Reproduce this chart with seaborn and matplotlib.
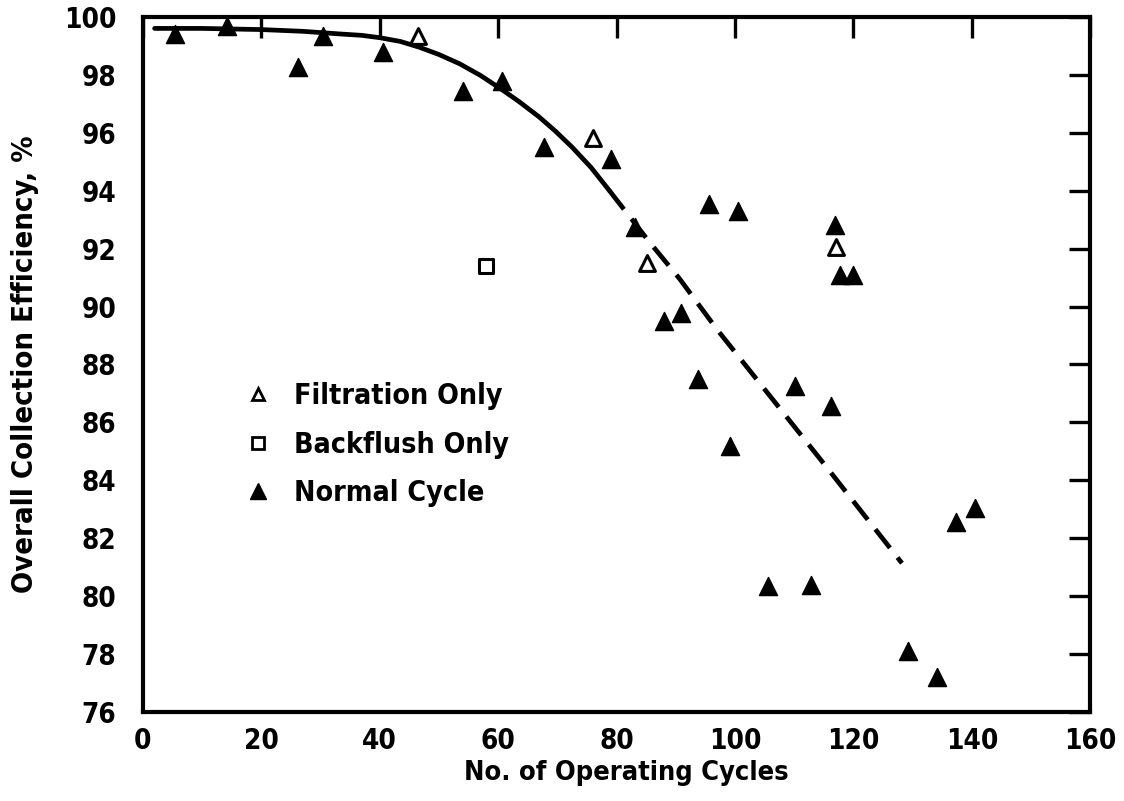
import matplotlib
matplotlib.use("Agg")
import matplotlib.pyplot as plt
from matplotlib.lines import Line2D
import seaborn as sns

# Normal cycle (filled triangles)
normal_x = [5.4, 14.3, 26.3, 30.5, 40.5, 54.0, 60.7, 67.8, 79.1, 83.1, 88.0, 90.9,
            93.8, 95.7, 99.2, 100.5, 105.6, 110.1, 112.8, 116.2, 116.9, 117.7, 120.0,
            129.3, 134.2, 137.4, 140.5]
normal_y = [99.4, 99.7, 98.27, 99.35, 98.8, 97.45, 97.8, 95.5, 95.1, 92.75, 89.5, 89.76,
            87.5, 93.55, 85.2, 93.3, 80.34, 87.27, 80.38, 86.55, 92.8, 91.1, 91.1,
            78.1, 77.2, 82.55, 83.03]

# Filtration only (open triangles)
filt_x = [46.5, 76.0, 85.2, 117.0]
filt_y = [99.35, 95.8, 91.5, 92.07]

# Backflush only (open square)
back_x = [58.0]
back_y = [91.4]

# Trend curve: solid part and dashed extrapolation
solid_x = [2, 10, 20, 27, 33.2, 37.0, 40.0, 43.5, 46.7, 50.0, 53.5, 57.0, 60.2,
           63.5, 66.9, 69.7, 72.5, 75.7, 78.8]
solid_y = [99.6, 99.6, 99.56, 99.5, 99.41, 99.36, 99.28, 99.15, 98.95, 98.70, 98.38,
           97.98, 97.55, 97.08, 96.55, 96.05, 95.5, 94.8, 94.0]
dash_x = [78.8, 85.5, 90.6, 97.0, 115.3, 128.2]
dash_y = [94.0, 92.24, 90.97, 89.2, 84.5, 81.14]

x_ticks = list(range(0, 161, 20))
y_ticks = list(range(76, 101, 2))

sns.set_theme(style="white")
plt.rcParams['font.family'] = ['DejaVu Sans']
plt.rcParams['font.stretch'] = 'condensed'
plt.rcParams['font.weight'] = 'bold'
plt.rcParams['text.color'] = 'black'
plt.rcParams['axes.labelcolor'] = 'black'

fig = plt.figure(figsize=(11.24, 8.01), dpi=100)
ax = fig.add_axes([0.127, 0.111, 0.843, 0.868])

sns.lineplot(x=solid_x, y=solid_y, ax=ax, color='black', lw=3.4, sort=False)
sns.lineplot(x=dash_x, y=dash_y, ax=ax, color='black', lw=3.4, sort=False,
             linestyle=(0, (5, 2.6)))

sns.scatterplot(x=normal_x, y=normal_y, ax=ax, marker='^', s=170, color='black',
                edgecolor='black', linewidth=1, zorder=5)
sns.scatterplot(x=filt_x, y=filt_y, ax=ax, marker='^', s=130, facecolor='white',
                edgecolor='black', linewidth=2.2, zorder=5)
sns.scatterplot(x=back_x, y=back_y, ax=ax, marker='s', s=110, facecolor='white',
                edgecolor='black', linewidth=2.2, zorder=5)

ax.set_xlim(0, 160)
ax.set_ylim(76, 100)
ax.set_xticks(x_ticks)
ax.set_yticks(y_ticks)
ax.tick_params(axis='both', which='major', direction='in', length=15, width=2.4,
               labelsize=20, top=True, right=True, colors='black')
ax.tick_params(axis='y', pad=19)
ax.tick_params(axis='x', pad=11)
for lab in ax.get_xticklabels() + ax.get_yticklabels():
    lab.set_fontweight('bold')
for sp in ax.spines.values():
    sp.set_linewidth(3)
    sp.set_color('black')

ax.set_xlabel("No. of Operating Cycles", fontsize=19.5, fontweight='bold')
ax.set_ylabel("Overall Collection Efficiency, %", fontsize=21, fontweight='bold')
ax.xaxis.set_label_coords(0.51, -0.069)
ax.yaxis.set_label_coords(-0.109, 0.50)

handles = [
    Line2D([], [], marker='^', ls='none', markersize=9, markerfacecolor='white',
           markeredgecolor='black', markeredgewidth=2),
    Line2D([], [], marker='s', ls='none', markersize=8, markerfacecolor='white',
           markeredgecolor='black', markeredgewidth=2),
    Line2D([], [], marker='^', ls='none', markersize=11, markerfacecolor='black',
           markeredgecolor='black'),
]
leg = ax.legend(handles, ["Filtration Only", "Backflush Only", "Normal Cycle"],
                loc='upper left', bbox_to_anchor=(0.0797, 0.511), frameon=False,
                fontsize=20.5, handletextpad=0.75, labelspacing=0.71, handlelength=1.0)
for t in leg.get_texts():
    t.set_fontweight('bold')
    t.set_color('black')

fig.savefig("out.png", dpi=100)
